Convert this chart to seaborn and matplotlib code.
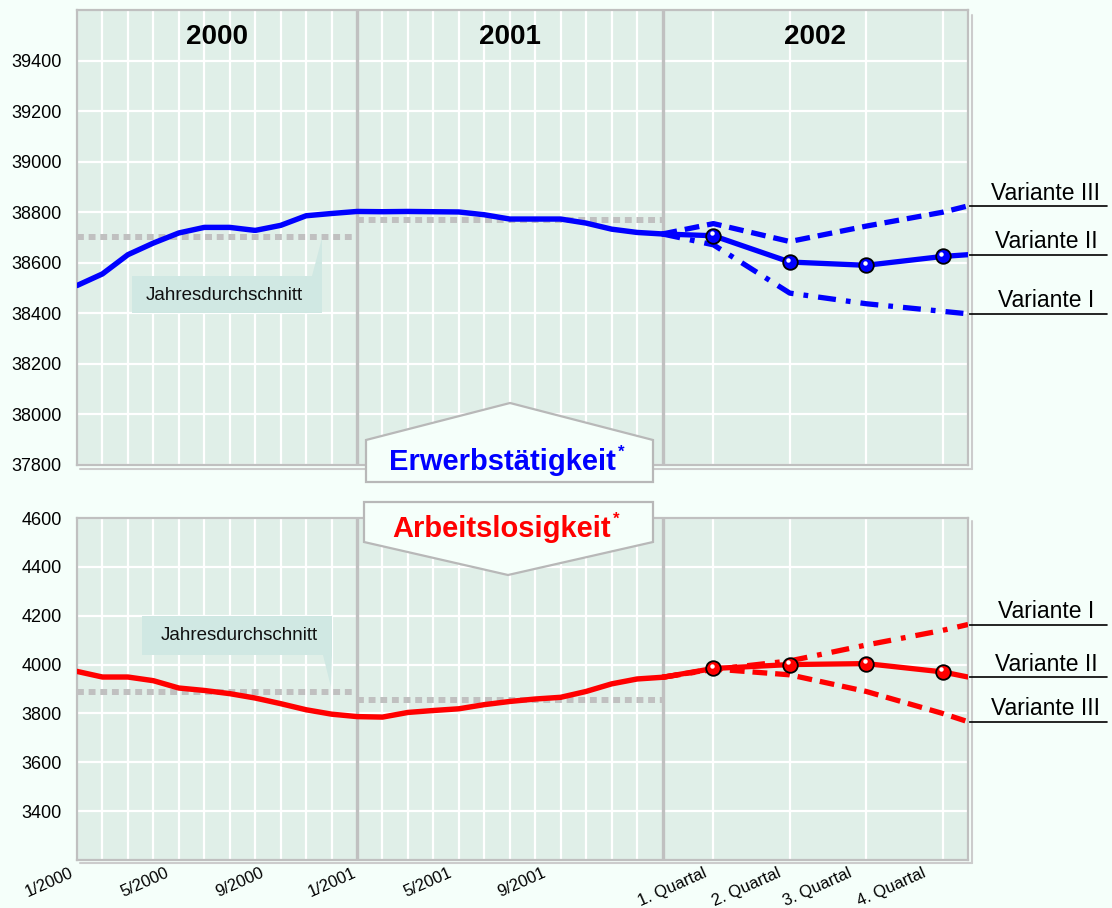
import numpy as np
import pandas as pd
import matplotlib
matplotlib.use('Agg')
import matplotlib.pyplot as plt
import matplotlib.transforms as mtransforms
from matplotlib.patches import Polygon
import seaborn as sns

# ---- data (month index: 0 = 1/2000, 23 = 12/2001) ----
months = list(range(24))
employed = [38510, 38556, 38632, 38678, 38718, 38740, 38740, 38728, 38748, 38786, 38795, 38803,
            38802, 38803, 38802, 38801, 38790, 38773, 38773, 38773, 38757, 38733, 38720, 38714]
unemployed = [3972, 3949, 3949, 3934, 3904, 3894, 3881, 3863, 3840, 3815, 3797, 3787,
              3785, 3804, 3812, 3819, 3836, 3849, 3859, 3866, 3890, 3921, 3941, 3948]

# forecast 2002: last month of 2001, four quarters (middle month), end of 2002
fc_x = [23, 25, 28, 31, 34, 35]
quarter_x = [25, 28, 31, 34]
emp_v1 = [38714, 38671, 38480, 38438, 38408, 38398]
emp_v2 = [38714, 38707, 38603, 38590, 38625, 38632]
emp_v3 = [38714, 38755, 38684, 38745, 38800, 38825]
unemp_v1 = [3948, 3980, 4015, 4080, 4140, 4164]
unemp_v2 = [3948, 3984, 4000, 4004, 3970, 3949]
unemp_v3 = [3948, 3982, 3958, 3890, 3800, 3766]

# yearly averages (Jahresdurchschnitt) 2000, 2001
emp_avg = [38700, 38770]
unemp_avg = [3889, 3856]

year_labels = ['2000', '2001', '2002']
section_edges = [0, 11, 23, 35]

x_tick_labels = ['1/2000', '5/2000', '9/2000', '1/2001', '5/2001', '9/2001',
                 '1. Quartal', '2. Quartal', '3. Quartal', '4. Quartal']
x_tick_pos = [-0.28, 3.46, 7.19, 10.84, 14.57, 18.27, 24.59, 27.5, 30.29, 33.2]

W, H = 1112, 908
BG = '#f5fffa'
FACE = '#e0efe8'
GRAY = '#c0c0c0'

sns.set_style('white')
plt.rcParams['font.family'] = ['Liberation Sans', 'DejaVu Sans']
plt.rcParams['text.color'] = 'black'
plt.rcParams['xtick.color'] = 'black'
plt.rcParams['ytick.color'] = 'black'


def px(x, y):
    return (x / W, 1 - y / H)


fig = plt.figure(figsize=(W / 100, H / 100), dpi=100, facecolor=BG)
ax1 = fig.add_axes([77 / W, 1 - 465 / H, 891 / W, 455 / H])
ax2 = fig.add_axes([77 / W, 1 - 860 / H, 891 / W, 342 / H])

grid_x = [m for m in range(1, section_edges[2]) if m != section_edges[1]] + quarter_x

styles = {'I': (0, (3.4, 1.9, 0.9, 1.9)), 'II': '-', 'III': (0, (2.8, 1.5))}


def draw_panel(ax, main, avgs, v1, v2, v3, color, ylim, yticks):
    ax.set_facecolor(FACE)
    ax.set_xlim(section_edges[0], section_edges[-1])
    ax.set_ylim(*ylim)
    ax.set_yticks(yticks)
    ax.set_xticks(grid_x)
    ax.set_xticklabels([])
    ax.tick_params(length=0, labelsize=13, pad=11)
    ax.grid(True, color='white', lw=1.6)
    ax.set_axisbelow(True)
    for s in ax.spines.values():
        s.set_color(GRAY)
        s.set_linewidth(1.6)
    # shadow frame right / bottom
    ax.plot([1.004, 1.004], [-0.008, 0.99], transform=ax.transAxes, color='#cccccc',
            lw=1.5, clip_on=False)
    ax.plot([0.003, 1.004], [-0.008, -0.008], transform=ax.transAxes, color='#cccccc',
            lw=1.5, clip_on=False)
    # year boundaries
    for e in section_edges[1:3]:
        ax.axvline(e, color=GRAY, lw=2.4, zorder=1.5)
    # yearly averages
    for i, a in enumerate(avgs):
        ax.plot([section_edges[i], section_edges[i + 1]], [a, a], color=GRAY, lw=4.3,
                linestyle=(0, (1.15, 0.8)), solid_capstyle='butt', zorder=2)
    # history
    sns.lineplot(x=months, y=main, ax=ax, color=color, lw=3.9, zorder=4)
    # variants
    for key, vals in zip(['I', 'II', 'III'], [v1, v2, v3]):
        sns.lineplot(x=fc_x, y=vals, ax=ax, color=color, lw=3.8, linestyle=styles[key],
                     zorder=4)
    # quarter markers with highlight
    qv = v2[1:5]
    ax.plot(quarter_x, qv, 'o', ms=10.5, color=color, mec='black', mew=1.3, zorder=6)
    hl = mtransforms.offset_copy(ax.transData, fig=fig, x=-1.2, y=1.8, units='points')
    ax.plot(quarter_x, qv, 'o', ms=3.2, color='white', mec='none', transform=hl, zorder=7)
    # variant labels with leader lines
    for key, vals in zip(['I', 'II', 'III'], [v1, v2, v3]):
        ax.plot([section_edges[-1], 40.46], [vals[-1], vals[-1]], color='black', lw=1.2,
                clip_on=False)
        ax.annotate('Variante ' + key, xy=(38.06, vals[-1]), xytext=(0, 1),
                    textcoords='offset points', ha='center', va='bottom', fontsize=16.5,
                    annotation_clip=False)
    ax.set_xlabel('')
    ax.set_ylabel('')


draw_panel(ax1, employed, emp_avg, emp_v1, emp_v2, emp_v3, '#0000ff',
           (37800, 39600), np.arange(37800, 39401, 200))
draw_panel(ax2, unemployed, unemp_avg, unemp_v1, unemp_v2, unemp_v3, '#ff0000',
           (3200, 4600), np.arange(3400, 4601, 200))

# year headers
ytr = mtransforms.blended_transform_factory(ax1.transData, ax1.transAxes)
for i, lab in enumerate(year_labels):
    mid = (section_edges[i] + section_edges[i + 1]) / 2
    ax1.text(mid, 0.94, lab, transform=ytr, ha='center', va='center', fontsize=20,
             fontweight='bold')

# x tick labels
xtr = mtransforms.blended_transform_factory(ax2.transData, ax2.transAxes)
for pos, lab in zip(x_tick_pos, x_tick_labels):
    ax2.text(pos, -0.015, lab, transform=xtr, ha='right', va='top', rotation=24,
             rotation_mode='anchor', fontsize=12, clip_on=False)

# Jahresdurchschnitt callouts
callout_top = [(132, 276), (312, 276), (322, 238), (322, 313), (132, 313)]
callout_bot = [(142, 616), (332, 616), (332, 655), (331, 687), (323, 655), (142, 655)]
for poly, c in [(callout_top, (224, 295)), (callout_bot, (239, 635))]:
    fig.patches.append(Polygon([px(*p) for p in poly], closed=True, transform=fig.transFigure,
                               facecolor='#d0e8e3', edgecolor='none', zorder=1))
    fig.text(*px(*c), 'Jahresdurchschnitt', ha='center', va='center', fontsize=13.5,
             color='#111111', zorder=3)

# title boxes
box_top = [(366, 482), (366, 440), (510, 403), (653, 440), (653, 482)]
box_bot = [(364, 502), (653, 502), (653, 542), (508, 575), (364, 542)]
for poly in (box_top, box_bot):
    fig.patches.append(Polygon([px(*p) for p in poly], closed=True, transform=fig.transFigure,
                               facecolor=BG, edgecolor='#b8b8b8', lw=1.6, zorder=1))

titles = []
for txt, base, col in [('Erwerbstätigkeit', 470, '#0000ff'), ('Arbeitslosigkeit', 537, '#ff0000')]:
    t = fig.text(*px(502, base), txt, ha='center', va='baseline', fontsize=21,
                 fontweight='bold', color=col, zorder=3)
    titles.append((t, base, col))

fig.canvas.draw()
renderer = fig.canvas.get_renderer()
for t, base, col in titles:
    bb = t.get_window_extent(renderer)
    # asterisk as superscript right of the title
    fig.text((bb.x1 + 2) / W, 1 - (base - 13) / H, '*', ha='left', va='baseline',
             fontsize=12, fontweight='bold', color=col, zorder=3)

fig.savefig('out.png', dpi=100, facecolor=BG)
